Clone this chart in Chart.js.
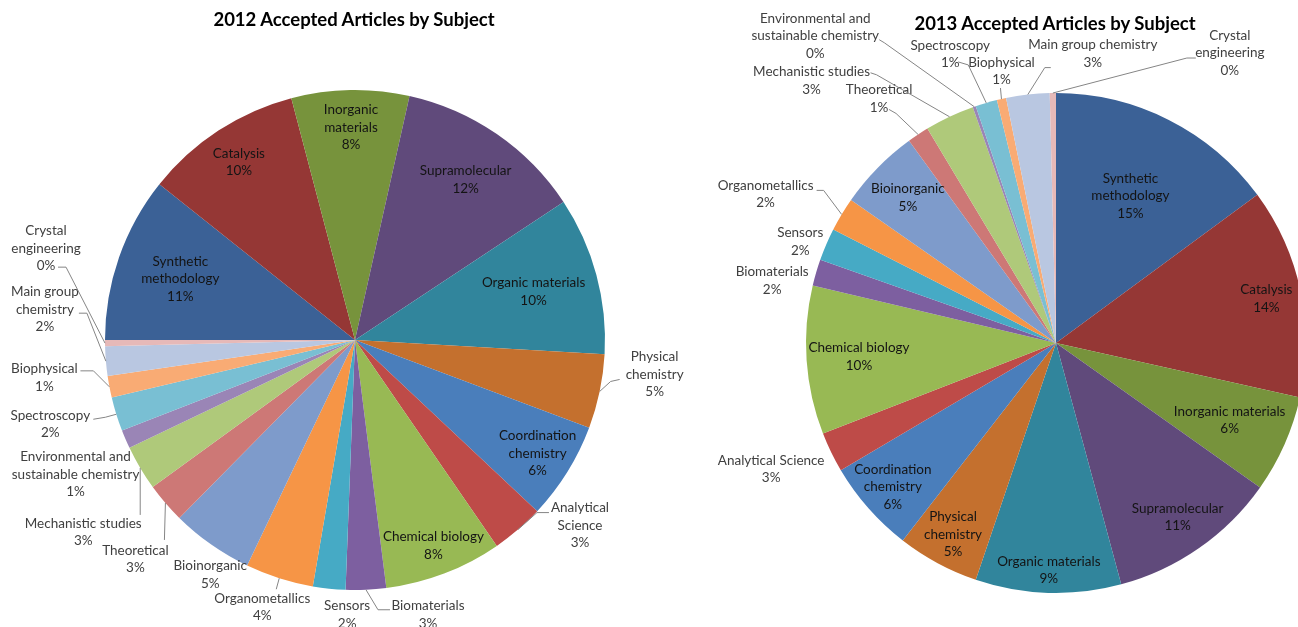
<!DOCTYPE html>
<html>
<head>
<meta charset="utf-8">
<script src="https://cdn.jsdelivr.net/npm/chart.js@4.4.0/dist/chart.umd.min.js"></script>
<style>
  html, body { margin: 0; padding: 0; background: #fff; width: 1298px; height: 627px; overflow: hidden; position: relative; }
  canvas { position: absolute; top: 0; }
  #c2012 { left: 0; }
  #c2013 { left: 650px; }
  .title { position: absolute; font-family: Lato, sans-serif; font-weight: bold; font-size: 18.5px; line-height: 22px; color: #000; white-space: nowrap; transform: translateX(-50%); }
</style>
</head>
<body>
<canvas id="c2012" width="720" height="627"></canvas>
<canvas id="c2013" width="700" height="627"></canvas>
<div class="title" style="left:354px;top:8px">2012 Accepted Articles by Subject</div>
<div class="title" style="left:1055px;top:12px">2013 Accepted Articles by Subject</div>
<script>
// subjects, same order in both years (clockwise)
var subjects = [
  'Synthetic methodology', 'Catalysis', 'Inorganic materials', 'Supramolecular',
  'Organic materials', 'Physical chemistry', 'Coordination chemistry', 'Analytical Science',
  'Chemical biology', 'Biomaterials', 'Sensors', 'Organometallics', 'Bioinorganic',
  'Theoretical', 'Mechanistic studies', 'Environmental and sustainable chemistry',
  'Spectroscopy', 'Biophysical', 'Main group chemistry', 'Crystal engineering'
];
// share of accepted articles, %
var share2012 = [10.7, 10.2, 7.6, 12.2, 10.2, 4.8, 6.3, 3.4, 7.6, 2.6, 2.1, 4.4, 5.3, 2.6, 2.9, 1.2, 2.2, 1.4, 1.9, 0.4];
var share2013 = [14.9, 13.6, 6.3, 11.0, 9.4, 5.3, 6.0, 2.6, 9.6, 1.7, 2.1, 2.2, 5.3, 1.4, 3.2, 0.2, 1.4, 0.6, 2.8, 0.4];

var colours = [
  '#3b6196', '#953735', '#77933c', '#604a7b', '#31859c', '#c4702e',
  '#4a7ebb', '#be4b48', '#98b954', '#7d5fa0', '#46aac5', '#f69546',
  '#7e9bcb', '#cd7876', '#afc97a', '#9a85b6', '#79bfd3', '#f9ab74',
  '#b9c7e1', '#e6b9b8'
];

// label placement: r = fraction of radius along the slice middle,
// dx/dy = shift from there, br = words on the first line, lead = leader line points
var place2012 = {
  'Synthetic methodology': { r: 0.74, br: 1 },
  'Catalysis': { r: 0.85 },
  'Inorganic materials': { r: 0.85, br: 1 },
  'Supramolecular': { r: 0.78 },
  'Organic materials': { r: 0.74 },
  'Physical chemistry': { r: 1, dx: 55, dy: -17, br: 1, lead: [[11, -10], [20, -12]] },
  'Coordination chemistry': { r: 0.86, br: 1 },
  'Analytical Science': { r: 1, dx: 62, dy: -4, br: 1, lead: [[19, -17], [31, -17]] },
  'Chemical biology': { r: 0.88 },
  'Biomaterials': { r: 1, dx: 62, dy: 25, lead: [[12, 20], [24, 20]] },
  'Sensors': { r: 1, dx: 18, dy: 26 },
  'Organometallics': { r: 1, dx: -17, dy: 29, lead: [[-3, 11]] },
  'Bioinorganic': { r: 1, dx: -1, dy: 30 },
  'Theoretical': { r: 1, dx: -30, dy: 56, lead: [[-1, 37]] },
  'Mechanistic studies': { r: 1, dx: -57, dy: 64, lead: [[0, 47]] },
  'Environmental and sustainable chemistry': { r: 1, dx: -50, dy: 35, br: 2 },
  'Spectroscopy': { r: 1, dx: -66, dy: 10, lead: [[-11, 3], [-23, 5]] },
  'Biophysical': { r: 1, dx: -65, dy: -9, lead: [[-16, -16], [-29, -16]] },
  'Main group chemistry': { r: 1, dx: -61, dy: -52, br: 2, lead: [[-19, -48], [-27, -48]] },
  'Crystal engineering': { r: 1, dx: -59, dy: -95, br: 1, lead: [[-39, -76], [-47, -76]] }
};
var place2013 = {
  'Synthetic methodology': { r: 0.66, br: 1 },
  'Catalysis': { r: 0.86 },
  'Inorganic materials': { r: 0.76 },
  'Supramolecular': { r: 0.85 },
  'Organic materials': { r: 0.91 },
  'Physical chemistry': { r: 0.87, br: 1 },
  'Coordination chemistry': { r: 0.87, br: 1 },
  'Analytical Science': { r: 1, dx: -60, dy: 17 },
  'Chemical biology': { r: 0.79 },
  'Biomaterials': { r: 1, dx: -44, dy: 8 },
  'Sensors': { r: 1, dx: -26, dy: -3 },
  'Organometallics': { r: 1, dx: -76, dy: -20, lead: [[-18, -24], [-25, -24]] },
  'Bioinorganic': { r: 0.83 },
  'Theoretical': { r: 1, dx: -39, dy: -36, lead: [[-22, -21], [-29, -25]] },
  'Mechanistic studies': { r: 1, dx: -138, dy: -36, lead: [[-73, -42], [-79, -44]] },
  'Environmental and sustainable chemistry': { r: 1, dx: -159, dy: -71, br: 2, lead: [[-90, -64], [-95, -67]] },
  'Spectroscopy': { r: 1, dx: -36, dy: -49, lead: [[-18, -38], [-28, -41]] },
  'Biophysical': { r: 1, dx: 0, dy: -28, lead: [[-1, -11]] },
  'Main group chemistry': { r: 1, dx: 65, dy: -41, lead: [[17, -27], [23, -27]] },
  'Crystal engineering': { r: 1, dx: 177, dy: -40, br: 1, lead: [[134, -35], [143, -35]] }
};

var pieLabels = {
  id: 'pieLabels',
  afterDatasetsDraw: function(chart, args, opts) {
    var ctx = chart.ctx;
    var vals = chart.data.datasets[0].data;
    var total = vals.reduce(function(a, b) { return a + b; }, 0);
    var meta = chart.getDatasetMeta(0);
    ctx.save();
    ctx.font = '13.5px Lato, sans-serif';
    ctx.textAlign = 'center';
    ctx.textBaseline = 'middle';
    ctx.lineWidth = 1;
    ctx.strokeStyle = '#858585';
    meta.data.forEach(function(arc, i) {
      var name = chart.data.labels[i];
      var s = opts.place[name];
      if (!s) return;
      var p = arc.getProps(['x', 'y', 'startAngle', 'endAngle', 'outerRadius'], true);
      var a = (p.startAngle + p.endAngle) / 2;
      var ex = p.x + Math.cos(a) * p.outerRadius * s.r;
      var ey = p.y + Math.sin(a) * p.outerRadius * s.r;
      var lx = ex + (s.dx || 0), ly = ey + (s.dy || 0);
      if (s.lead) {
        ctx.beginPath();
        ctx.moveTo(ex, ey);
        s.lead.forEach(function(q) { ctx.lineTo(ex + q[0], ey + q[1]); });
        ctx.stroke();
      }
      var words = name.split(' ');
      var lines = s.br ? [words.slice(0, s.br).join(' '), words.slice(s.br).join(' ')] : [name];
      lines.push(Math.round(vals[i] / total * 100) + '%');
      ctx.fillStyle = s.r < 1 ? '#141414' : '#404040';
      var lh = 17.5;
      lines.forEach(function(t, k) {
        ctx.fillText(t, lx, ly + (k - (lines.length - 1) / 2) * lh);
      });
    });
    ctx.restore();
  }
};

function makePie(id, values, rotation, padding, place) {
  return new Chart(document.getElementById(id), {
    type: 'pie',
    data: {
      labels: subjects,
      datasets: [{
        data: values,
        backgroundColor: colours,
        borderWidth: 0
      }]
    },
    options: {
      responsive: false,
      devicePixelRatio: 1,
      animation: false,
      rotation: rotation,
      layout: { padding: padding },
      plugins: {
        legend: { display: false },
        tooltip: { enabled: false },
        pieLabels: { place: place }
      }
    },
    plugins: [pieLabels]
  });
}

makePie('c2012', share2012, 270, { left: 105, right: 115, top: 90, bottom: 37 }, place2012);
makePie('c2013', share2013, 0, { left: 156, right: 44, top: 93, bottom: 34 }, place2013);
</script>
</body>
</html>
